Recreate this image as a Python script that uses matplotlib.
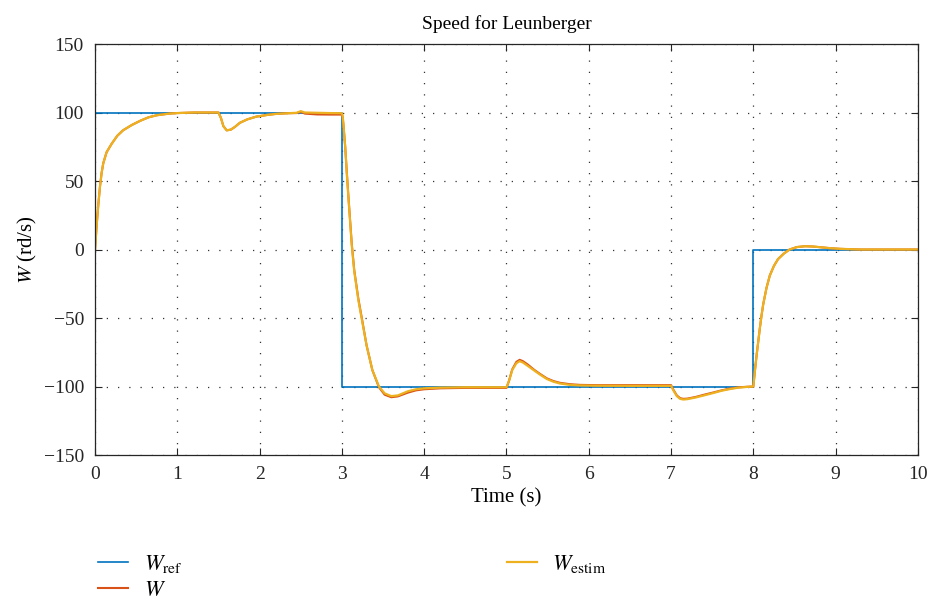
import matplotlib
matplotlib.use("Agg")
import matplotlib.pyplot as plt

# reference speed (step profile)
t_ref = [0, 0, 3, 3, 8, 8, 10]
w_ref = [0, 100, 100, -100, -100, 0, 0]

t_resp = [0, 0.02, 0.04, 0.06, 0.08, 0.1, 0.14, 0.2, 0.27, 0.34, 0.45, 0.55, 0.65, 0.75, 0.9, 1.0, 1.2, 1.5,
          1.53, 1.56, 1.6, 1.65, 1.7, 1.76, 1.85, 1.96, 2.1, 2.2, 2.35, 2.45, 2.5, 2.55, 2.7, 2.85, 3.0,
          3.01, 3.02, 3.04, 3.06, 3.08, 3.1, 3.12, 3.15, 3.2, 3.245, 3.3, 3.37, 3.45, 3.52, 3.6, 3.68, 3.8, 3.9, 4.0, 4.2, 4.5, 5.0,
          5.03, 5.07, 5.12, 5.16, 5.2, 5.26, 5.33, 5.4, 5.49, 5.57, 5.65, 5.77, 5.89, 6.1, 6.5, 7.0,
          7.03, 7.07, 7.11, 7.15, 7.2, 7.3, 7.4, 7.51, 7.62, 7.72, 7.82, 7.92, 8.0,
          8.02, 8.04, 8.06, 8.08, 8.1, 8.12, 8.16, 8.2, 8.25, 8.3, 8.37, 8.44, 8.53, 8.63, 8.72, 8.81, 8.93, 9.05, 9.2, 9.3, 9.6, 10]

w_estim = [0, 18, 33, 46, 56, 63, 71, 77, 83, 87, 91, 94, 96.5, 98, 99.2, 99.6, 100, 100,
           96, 90, 87, 87.5, 89.5, 92.5, 95, 97, 98.3, 99, 99.5, 99.8, 101, 100, 99.8, 99.6, 99.5,
           97, 90, 75, 55, 37, 20, 3, -16, -37, -52, -70, -88, -100, -105, -107, -106.5, -103.5, -102, -101.3, -100.8, -100.5, -100.5,
           -96, -88, -83, -81.5, -82.5, -85, -88, -91, -94.5, -96.5, -97.8, -98.8, -99.2, -99.4, -99.5, -99.5,
           -103, -107, -109, -109.5, -109.2, -108, -106.5, -104.8, -103, -101.8, -100.8, -100.3, -100,
           -88, -77, -67, -57, -48, -40, -28, -19, -12, -7, -3, 0, 1.8, 2.4, 2.2, 1.7, 1.0, 0.5, 0.2, 0, 0, 0]

w_meas = [0, 18, 33, 46, 56, 63, 71, 77, 83, 87, 91, 94, 96.5, 98, 99.2, 99.6, 100, 100,
          96, 90, 87, 87.5, 89.5, 92.5, 95, 97, 98.3, 99, 99.5, 99.6, 100.5, 99.2, 98.6, 98.5, 98.5,
          96.5, 90, 75, 56, 38, 21, 4, -15, -36, -51, -70, -88, -100.5, -106, -107.8, -107.2, -104.5, -102.8, -102, -101.3, -101, -101,
          -96, -87.5, -82, -80.5, -81.5, -84, -87.5, -90.5, -94, -96, -97.3, -98.3, -98.8, -99, -99, -99,
          -102.5, -106.5, -108.5, -109, -108.8, -107.6, -106, -104.4, -102.7, -101.5, -100.6, -100.2, -100,
          -88, -77, -67, -57, -48, -40, -28, -19, -12, -7, -3, 0, 1.8, 2.4, 2.2, 1.7, 1.0, 0.5, 0.2, 0, 0, 0]

x_ticks = list(range(0, 11))
y_ticks = [-150, -100, -50, 0, 50, 100, 150]

plt.rcParams['font.family'] = ['Liberation Serif', 'DejaVu Serif']
plt.rcParams['mathtext.fontset'] = 'stix'
plt.rcParams['font.size'] = 14

fig = plt.figure(figsize=(9.3, 6.03), dpi=100)
ax = fig.add_axes([0.1022, 0.2454, 0.8848, 0.6816])

ax.plot(t_ref, w_ref, color='#0072BD', lw=1.2, label=r'$W_{\mathrm{ref}}$')
ax.plot(t_resp, w_meas, color='#D95319', lw=1.5, label=r'$W$')
ax.plot(t_resp, w_estim, color='#EDB120', lw=1.6, label=r'$W_{\mathrm{estim}}$')

ax.set_xlim(0, 10)
ax.set_ylim(-150, 150)
ax.set_xticks(x_ticks)
ax.set_yticks(y_ticks)
ax.set_yticklabels([str(v).replace('-', '\u2212') for v in y_ticks])
ax.tick_params(direction='in', top=True, right=True, length=5, width=0.8, colors='#262626', labelsize=14, pad=8)
for s in ax.spines.values():
    s.set_color('#262626')
    s.set_linewidth(0.9)
ax.grid(True, linestyle=(0, (1, 8)), color='#333333', lw=0.9)

ax.set_title('Speed for Leunberger', fontsize=14, pad=11)
ax.set_xlabel('Time (s)', fontsize=15, labelpad=4)
ax.set_ylabel(r'$W$ (rd/s)', fontsize=15, labelpad=3)

fig.legend(loc='upper left', bbox_to_anchor=(0.084, 0.116), ncol=2, frameon=False,
           fontsize=16, handlelength=1.35, handletextpad=0.7, columnspacing=14.6, labelspacing=0.25)

fig.savefig('out.png', dpi=100)
